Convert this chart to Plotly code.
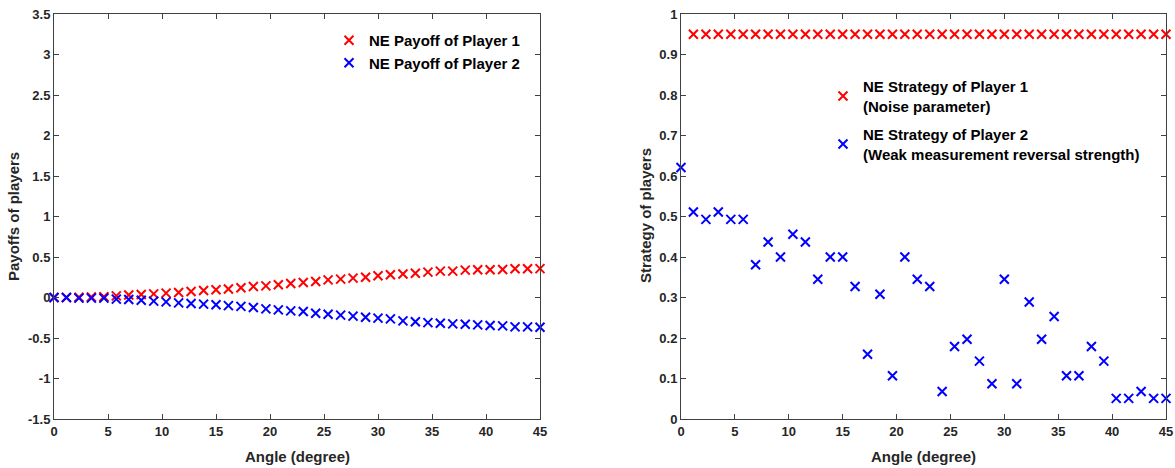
import plotly.graph_objects as go

# Angle samples (degree)
angles = [0.0, 1.15, 2.31, 3.46, 4.62, 5.77, 6.92, 8.08, 9.23, 10.38,
          11.54, 12.69, 13.85, 15.0, 16.15, 17.31, 18.46, 19.62, 20.77, 21.92,
          23.08, 24.23, 25.38, 26.54, 27.69, 28.85, 30.0, 31.15, 32.31, 33.46,
          34.62, 35.77, 36.92, 38.08, 39.23, 40.38, 41.54, 42.69, 43.85, 45.0]

# NE payoffs
payoff_p1 = [0.0, 0.0, 0.003, 0.006, 0.01, 0.02, 0.03, 0.037, 0.045, 0.054,
             0.062, 0.074, 0.087, 0.095, 0.104, 0.12, 0.136, 0.144, 0.157, 0.173,
             0.186, 0.198, 0.218, 0.227, 0.239, 0.25, 0.268, 0.28, 0.29, 0.30,
             0.313, 0.326, 0.326, 0.338, 0.342, 0.342, 0.345, 0.354, 0.354, 0.356]
payoff_p2 = [0.0, 0.0, -0.008, -0.008, -0.008, -0.02, -0.025, -0.033, -0.045, -0.054,
             -0.066, -0.074, -0.082, -0.09, -0.10, -0.11, -0.124, -0.14, -0.153, -0.165,
             -0.173, -0.194, -0.206, -0.218, -0.23, -0.243, -0.255, -0.264, -0.289, -0.30,
             -0.31, -0.317, -0.326, -0.33, -0.338, -0.346, -0.35, -0.363, -0.363, -0.367]

# NE strategies (player 1 has no value at angle 0)
strategy_angles_p1 = angles[1:]
strategy_p1 = [0.95] * 39
strategy_p2 = [0.621, 0.511, 0.493, 0.511, 0.493, 0.493, 0.381, 0.437, 0.400, 0.456,
               0.437, 0.345, 0.400, 0.400, 0.327, 0.160, 0.308, 0.107, 0.400, 0.345,
               0.327, 0.068, 0.179, 0.197, 0.143, 0.087, 0.345, 0.087, 0.289, 0.197,
               0.253, 0.107, 0.107, 0.179, 0.143, 0.051, 0.051, 0.068, 0.051, 0.051]

x_ticks = [0, 5, 10, 15, 20, 25, 30, 35, 40, 45]
payoff_ticks = [-1.5, -1, -0.5, 0, 0.5, 1, 1.5, 2, 2.5, 3, 3.5]
payoff_tick_text = ["-1.5", "-1", "-0.5", "0", "0.5", "1", "1.5", "2", "2.5", "3", "3.5"]
strategy_ticks = [0, 0.1, 0.2, 0.3, 0.4, 0.5, 0.6, 0.7, 0.8, 0.9, 1]
strategy_tick_text = ["0", "0.1", "0.2", "0.3", "0.4", "0.5", "0.6", "0.7", "0.8", "0.9", "1"]

W, H = 1175, 468
FONT = "Liberation Sans, Arial, Helvetica, sans-serif"
RED = "#ff0000"
BLUE = "#0000ff"
AXIS_TXT = "#262626"


def marker(color):
    return dict(symbol="x-thin", size=9, color=color, line=dict(width=2, color=color))


fig = go.Figure()

fig.add_trace(go.Scatter(x=angles, y=payoff_p1, mode="markers", name="NE Payoff of Player 1",
                         marker=marker(RED), cliponaxis=False,
                         xaxis="x", yaxis="y", legend="legend"))
fig.add_trace(go.Scatter(x=angles, y=payoff_p2, mode="markers", name="NE Payoff of Player 2",
                         marker=marker(BLUE), cliponaxis=False,
                         xaxis="x", yaxis="y", legend="legend"))
fig.add_trace(go.Scatter(x=strategy_angles_p1, y=strategy_p1, mode="markers",
                         name="NE Strategy of Player 1<br>(Noise parameter)",
                         marker=marker(RED), cliponaxis=False, legendgroup="s1",
                         xaxis="x2", yaxis="y2", legend="legend2"))
fig.add_trace(go.Scatter(x=angles, y=strategy_p2, mode="markers",
                         name="NE Strategy of Player 2<br>(Weak measurement reversal strength)",
                         marker=marker(BLUE), cliponaxis=False, legendgroup="s2",
                         xaxis="x2", yaxis="y2", legend="legend2"))

tickfont = dict(family=FONT, size=13, color=AXIS_TXT, weight="bold")
common = dict(showline=True, linecolor="#404040", linewidth=1, mirror="ticks",
              ticks="inside", ticklen=5, tickcolor="#404040", showgrid=False,
              zeroline=False, tickfont=tickfont, automargin=False, fixedrange=True)

ydom = [1 - 419 / H, 1 - 14 / H]

fig.update_layout(
    width=W, height=H,
    margin=dict(l=0, r=0, t=0, b=0),
    paper_bgcolor="white", plot_bgcolor="white",
    showlegend=True,
    xaxis=dict(domain=[54 / W, 540 / W], range=[0, 45], tickvals=x_ticks, anchor="y", **common),
    yaxis=dict(domain=ydom, range=[-1.5, 3.5], tickvals=payoff_ticks,
               ticktext=payoff_tick_text, anchor="x", **common),
    xaxis2=dict(domain=[681 / W, 1166 / W], range=[0, 45], tickvals=x_ticks, anchor="y2", **common),
    yaxis2=dict(domain=ydom, range=[0, 1], tickvals=strategy_ticks,
                ticktext=strategy_tick_text, anchor="x2", **common),
    legend=dict(x=329 / W, y=1 - 24 / H, xanchor="left", yanchor="top",
                bgcolor="rgba(0,0,0,0)", borderwidth=0,
                font=dict(family=FONT, size=15, color="black", weight="bold")),
    legend2=dict(x=823 / W, y=1 - 70 / H, xanchor="left", yanchor="top",
                 bgcolor="rgba(0,0,0,0)", borderwidth=0, traceorder="grouped",
                 tracegroupgap=6,
                 font=dict(family=FONT, size=15, color="black", weight="bold")),
)

title_font = dict(family=FONT, size=15, color=AXIS_TXT, weight="bold")
fig.add_annotation(text="Angle (degree)", x=297 / W, y=1 - 456 / H, xref="paper", yref="paper",
                   xanchor="center", yanchor="middle", showarrow=False, font=title_font)
fig.add_annotation(text="Angle (degree)", x=923 / W, y=1 - 456 / H, xref="paper", yref="paper",
                   xanchor="center", yanchor="middle", showarrow=False, font=title_font)
fig.add_annotation(text="Payoffs of players", x=13 / W, y=1 - 217 / H, xref="paper", yref="paper",
                   xanchor="center", yanchor="middle", showarrow=False, textangle=-90,
                   font=title_font)
fig.add_annotation(text="Strategy of players", x=645 / W, y=1 - 216 / H, xref="paper", yref="paper",
                   xanchor="center", yanchor="middle", showarrow=False, textangle=-90,
                   font=title_font)

fig.write_html("out.html")
